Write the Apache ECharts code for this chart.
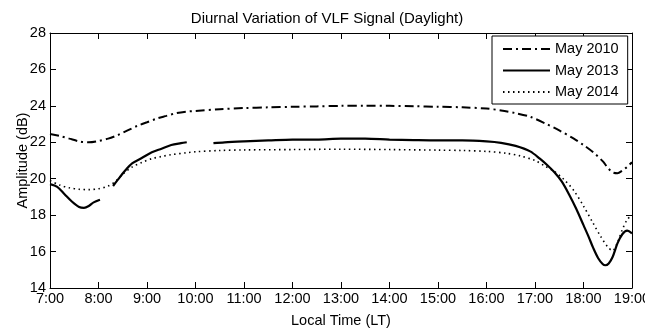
<!DOCTYPE html>
<html>
<head>
<meta charset="utf-8">
<script src="https://cdn.jsdelivr.net/npm/echarts@6/dist/echarts.min.js"></script>
<style>html,body{margin:0;padding:0;background:#fff;}#c{width:654px;height:330px;}</style>
</head>
<body>
<div id="c"></div>
<script>
var FONT = "'Liberation Sans',Arial,sans-serif";
var FS = 14.5;

var titleText = 'Diurnal Variation of VLF Signal (Daylight)';
var xName = 'Local Time (LT)';
var yName = 'Amplitude (dB)';
var seriesNames = ['May 2010', 'May 2013', 'May 2014'];
var xTicks = [7, 8, 9, 10, 11, 12, 13, 14, 15, 16, 17, 18, 19];
var yTicks = [14, 16, 18, 20, 22, 24, 26, 28];

var t2010 = [7.0, 7.2, 7.4, 7.6, 7.8, 8.0, 8.2, 8.4, 8.6, 8.8, 9.0, 9.2, 9.4, 9.6, 9.8, 10.0, 10.5, 11.0, 11.5, 12.0, 12.5, 13.0, 13.5, 14.0, 14.5, 15.0, 15.5, 16.0, 16.3, 16.6, 16.9, 17.2, 17.5, 17.8, 18.0, 18.2, 18.4, 18.5, 18.6, 18.7, 18.8, 18.9, 19.0];
var a2010 = [22.45, 22.35, 22.2, 22.05, 22.0, 22.07, 22.2, 22.4, 22.65, 22.9, 23.1, 23.3, 23.45, 23.6, 23.68, 23.72, 23.82, 23.88, 23.92, 23.95, 23.97, 24.0, 24.0, 24.0, 23.98, 23.95, 23.92, 23.85, 23.75, 23.6, 23.4, 23.05, 22.65, 22.2, 21.85, 21.45, 20.95, 20.6, 20.35, 20.3, 20.45, 20.65, 20.9];

var t2013 = [7.0, 7.15, 7.3, 7.45, 7.6, 7.7, 7.8, 7.9, 8.03, 8.15, 8.3, 8.4, 8.55, 8.7, 8.9, 9.1, 9.3, 9.5, 9.7, 9.82, 10.1, 10.37, 10.6, 11.0, 11.5, 12.0, 12.5, 13.0, 13.5, 14.0, 14.5, 15.0, 15.5, 16.0, 16.3, 16.6, 16.9, 17.1, 17.25, 17.4, 17.55, 17.7, 17.85, 18.0, 18.1, 18.2, 18.3, 18.4, 18.45, 18.52, 18.6, 18.7, 18.8, 18.9, 19.0];
var a2013 = [19.7, 19.55, 19.15, 18.75, 18.45, 18.4, 18.5, 18.7, 18.85, null, 19.6, 19.95, 20.45, 20.85, 21.15, 21.45, 21.65, 21.85, 21.95, 22.0, null, 21.95, 22.0, 22.05, 22.1, 22.15, 22.15, 22.2, 22.2, 22.15, 22.12, 22.1, 22.1, 22.05, 21.97, 21.8, 21.5, 21.1, 20.75, 20.35, 19.85, 19.15, 18.35, 17.45, 16.85, 16.2, 15.65, 15.3, 15.25, 15.35, 15.7, 16.45, 16.95, 17.15, 17.0];

var t2014 = [7.0, 7.2, 7.4, 7.6, 7.8, 8.0, 8.2, 8.35, 8.5, 8.7, 8.9, 9.1, 9.3, 9.5, 9.8, 10.0, 10.5, 11.0, 12.0, 13.0, 14.0, 15.0, 15.5, 16.0, 16.4, 16.7, 17.0, 17.2, 17.4, 17.6, 17.8, 18.0, 18.2, 18.35, 18.5, 18.6, 18.7, 18.8, 18.9, 19.0];
var a2014 = [19.9, 19.65, 19.5, 19.42, 19.4, 19.45, 19.6, 19.85, 20.25, 20.65, 20.9, 21.1, 21.22, 21.32, 21.42, 21.48, 21.55, 21.58, 21.6, 21.62, 21.6, 21.57, 21.55, 21.5, 21.4, 21.25, 21.0, 20.7, 20.4, 19.95, 19.35, 18.5, 17.55, 16.85, 16.25, 16.05, 16.5, 17.2, 17.75, 18.0];

function pairs(t, a) { return t.map(function (x, i) { return [x, a[i]]; }); }

var chart = echarts.init(document.getElementById('c'), null, { renderer: 'canvas' });
var axisCommon = {
  axisLine: { show: true, lineStyle: { color: '#000', width: 1 } },
  axisTick: { show: true, inside: true, length: 6, lineStyle: { color: '#000' } },
  splitLine: { show: false }
};
chart.setOption({
  animation: false,
  backgroundColor: '#fff',
  title: {
    text: titleText, left: 'center', top: 11, padding: [0, 0, 0, 28],
    textStyle: { fontFamily: FONT, fontSize: 15, fontWeight: 'normal', color: '#000' }
  },
  legend: {
    orient: 'vertical', left: 492, top: 36,
    padding: [5, 9, 4, 10], itemGap: 5.5, itemWidth: 47, itemHeight: 14,
    backgroundColor: '#fff', borderColor: '#000', borderWidth: 1, borderRadius: 0,
    itemStyle: { opacity: 0, borderWidth: 0 },
    textStyle: { fontFamily: FONT, fontSize: FS, color: '#000', lineHeight: 16 },
    data: seriesNames
  },
  grid: { left: 50, right: 22, top: 33, bottom: 42, containLabel: false, outerBoundsMode: 'none' },
  xAxis: [
    Object.assign({
      type: 'value', position: 'bottom', min: xTicks[0], max: xTicks[xTicks.length - 1], interval: 1,
      name: xName, nameLocation: 'middle', nameGap: 25, nameMoveOverlap: false,
      nameTextStyle: { fontFamily: FONT, fontSize: FS, color: '#000' },
      axisLabel: { fontFamily: FONT, fontSize: FS, color: '#000', margin: 3,
        formatter: function (v) { return v + ':00'; } }
    }, axisCommon),
    Object.assign({
      type: 'value', position: 'top', min: xTicks[0], max: xTicks[xTicks.length - 1], interval: 1,
      axisLabel: { show: false }
    }, axisCommon)
  ],
  yAxis: [
    Object.assign({
      type: 'value', position: 'left', min: yTicks[0], max: yTicks[yTicks.length - 1], interval: 2,
      name: yName, nameLocation: 'middle', nameGap: 20, nameMoveOverlap: false,
      nameTextStyle: { fontFamily: FONT, fontSize: FS, color: '#000' },
      axisLabel: { fontFamily: FONT, fontSize: FS, color: '#000', margin: 4 }
    }, axisCommon),
    Object.assign({
      type: 'value', position: 'right', min: yTicks[0], max: yTicks[yTicks.length - 1], interval: 2,
      axisLabel: { show: false }
    }, axisCommon)
  ],
  series: [
    { name: seriesNames[0], type: 'line', data: pairs(t2010, a2010), showSymbol: false, symbol: 'none', smooth: 0.3,
      color: '#000', lineStyle: { color: '#000', width: 2, type: [9, 4, 2, 4] } },
    { name: seriesNames[1], type: 'line', data: pairs(t2013, a2013), showSymbol: false, symbol: 'none', smooth: 0.3,
      connectNulls: false, color: '#000', lineStyle: { color: '#000', width: 2.2, type: 'solid' } },
    { name: seriesNames[2], type: 'line', data: pairs(t2014, a2014), showSymbol: false, symbol: 'none', smooth: 0.3,
      color: '#000', lineStyle: { color: '#000', width: 1.6, type: [1.5, 3.5] } }
  ],
  graphic: [
    { type: 'rect', left: 645, top: 290, z: 100, shape: { width: 12, height: 22 }, style: { fill: '#fff' } }
  ]
});
</script>
</body>
</html>
